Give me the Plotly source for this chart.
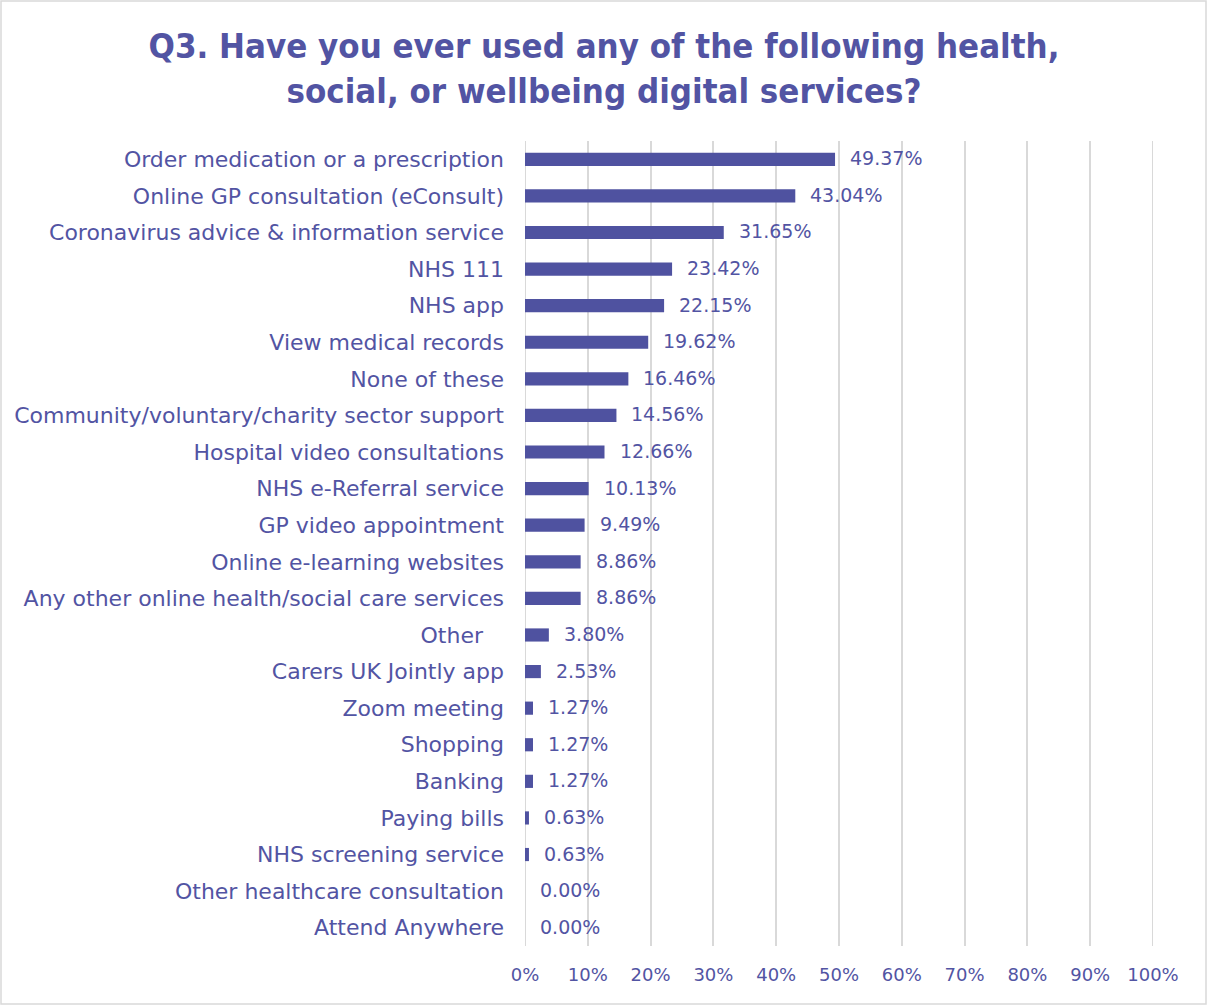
import plotly.graph_objects as go

# Survey responses, ordered from most to least used
services = [
    "Order medication or a prescription",
    "Online GP consultation (eConsult)",
    "Coronavirus advice & information service",
    "NHS 111",
    "NHS app",
    "View medical records",
    "None of these",
    "Community/voluntary/charity sector support",
    "Hospital video consultations",
    "NHS e-Referral service",
    "GP video appointment",
    "Online e-learning websites",
    "Any other online health/social care services",
    "Other\u00a0\u00a0\u00a0",
    "Carers UK Jointly app",
    "Zoom meeting",
    "Shopping",
    "Banking",
    "Paying bills",
    "NHS screening service",
    "Other healthcare consultation",
    "Attend Anywhere",
]
percent = [49.37, 43.04, 31.65, 23.42, 22.15, 19.62, 16.46, 14.56, 12.66, 10.13,
           9.49, 8.86, 8.86, 3.80, 2.53, 1.27, 1.27, 1.27, 0.63, 0.63, 0.00, 0.00]
x_ticks = list(range(0, 101, 10))
x_tick_labels = [f"{t}%" for t in x_ticks]

INK = "#5254A3"
BAR = "#4F52A0"
GRID = "#D9D9D9"
FONT = "DejaVu Sans"

W, H = 1208, 1006
ML, MR, MT, MB = 525, 55, 141, 60
PW, PH = W - ML - MR, H - MT - MB

fig = go.Figure(go.Bar(
    x=percent,
    y=services,
    orientation="h",
    marker=dict(color=BAR, line=dict(width=0)),
    width=0.36,
    hoverinfo="skip",
))

# Value labels placed just past the end of each bar
for s, v in zip(services, percent):
    fig.add_annotation(
        x=v, y=s, text=f"{v:.2f}%", showarrow=False,
        xanchor="left", yanchor="middle", xshift=13, yshift=1,
        font=dict(family=FONT, size=19, color=INK),
    )

# Gridlines at the two ends of the axis range
for t in (x_ticks[0], x_ticks[-1]):
    fig.add_shape(
        type="line", xref="x", yref="paper", x0=t, x1=t, y0=0, y1=1,
        line=dict(color=GRID, width=2), layer="below",
    )

# Light outer frame around the whole chart
fig.add_shape(
    type="rect", xref="paper", yref="paper",
    x0=(1 - ML) / PW, x1=(W - 2 - ML) / PW,
    y0=-(H - 2 - MT - PH) / PH, y1=1 + (MT - 1) / PH,
    line=dict(color=GRID, width=1.5), fillcolor="rgba(0,0,0,0)", layer="below",
)

fig.update_layout(
    width=W, height=H,
    margin=dict(l=ML, r=MR, t=MT, b=MB),
    paper_bgcolor="white", plot_bgcolor="white",
    showlegend=False,
    title=dict(
        text="<b>Q3. Have you ever used any of the following health,<br>social, or wellbeing digital services?</b>",
        x=0.5, xref="container", xanchor="center",
        y=1 - 58 / H, yref="container", yanchor="middle",
        font=dict(family="DejaVu Sans Condensed", size=34.5, color=INK),
    ),
    xaxis=dict(
        range=[0, 100], tickvals=x_ticks, ticktext=x_tick_labels,
        showgrid=True, gridcolor=GRID, gridwidth=2,
        zeroline=False, showline=False, ticks="",
        ticklabelstandoff=16,
        tickfont=dict(family=FONT, size=18, color=INK),
        fixedrange=True,
    ),
    yaxis=dict(
        autorange="reversed", showgrid=False, zeroline=False, showline=False,
        ticks="", ticklabelstandoff=20,
        tickfont=dict(family=FONT, size=22, color=INK),
        fixedrange=True,
    ),
)

fig.write_html("out.html")
